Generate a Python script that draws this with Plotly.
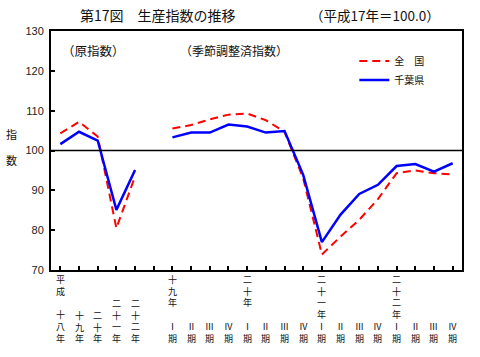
import plotly.graph_objects as go

# ---- data ----
positions = list(range(22))
zenkoku = [104.3, 107.2, 103.5, 80.5, 93.5, None,
           105.5, 106.4, 107.8, 109.0, 109.3, 107.6, 104.7, 93.0,
           73.9, 78.4, 82.6, 87.8, 94.3, 95.0, 94.3, 94.0]
chiba = [101.6, 104.7, 102.5, 85.1, 95.1, None,
         103.3, 104.5, 104.5, 106.5, 106.0, 104.5, 104.9, 93.9,
         77.0, 83.9, 89.1, 91.4, 96.1, 96.6, 94.7, 96.8]
series_names = ["全　国", "千葉県"]

# vertical tick labels, top to bottom ("" = blank line)
tick_labels = [
    ["平", "成", "", "十", "八", "年"],
    ["十", "九", "年"],
    ["二", "十", "年"],
    ["二", "十", "一", "年"],
    ["二", "十", "二", "年"],
    [],
    ["十", "九", "年", "", "Ⅰ", "期"],
    ["Ⅱ", "期"],
    ["Ⅲ", "期"],
    ["Ⅳ", "期"],
    ["二", "十", "年", "", "Ⅰ", "期"],
    ["Ⅱ", "期"],
    ["Ⅲ", "期"],
    ["Ⅳ", "期"],
    ["二", "十", "一", "年", "Ⅰ", "期"],
    ["Ⅱ", "期"],
    ["Ⅲ", "期"],
    ["Ⅳ", "期"],
    ["二", "十", "二", "年", "Ⅰ", "期"],
    ["Ⅱ", "期"],
    ["Ⅲ", "期"],
    ["Ⅳ", "期"],
]

y_ticks = [70, 80, 90, 100, 110, 120, 130]

FONT = "Noto Sans CJK JP"

fig = go.Figure()
fig.add_trace(go.Scatter(x=positions, y=zenkoku, mode="lines", name=series_names[0],
                         line=dict(color="#FF0000", width=2, dash="8px,5px"),
                         connectgaps=False))
fig.add_trace(go.Scatter(x=positions, y=chiba, mode="lines", name=series_names[1],
                         line=dict(color="#0000FF", width=2.5),
                         connectgaps=False))

fig.add_hline(y=100, line=dict(color="black", width=1.5))

PLOT_TOP = 31
PLOT_BOTTOM = 270  # px from top
PLOT_LEFT = 51
anns = []

for k, chars in zip(positions, tick_labels):
    if not chars:
        continue
    text = "<br>".join(c if c else " " for c in chars)
    anns.append(dict(x=k, xref="x", y=0, yref="paper", yshift=-(346 - PLOT_BOTTOM),
                     text=text, showarrow=False, xanchor="center", yanchor="bottom",
                     borderpad=0,
                     font=dict(family=FONT, size=9, color="#111")))

def px_text(xpx, ypx, text, size, xanchor="left"):
    anns.append(dict(x=0, xref="paper", y=1, yref="paper",
                     xshift=xpx - PLOT_LEFT, yshift=PLOT_TOP - ypx,
                     text=text, showarrow=False, xanchor=xanchor, yanchor="middle",
                     font=dict(family=FONT, size=size, color="#111")))

# y-axis title
px_text(11, 134, "指", 11, "center")
px_text(11, 160, "数", 11, "center")

# in-plot notes
px_text(60, 50, "（原指数）", 12.5)
px_text(178, 50, "（季節調整済指数）", 12)

# titles
px_text(78, 15, "第17図　生産指数の推移", 14)
px_text(308, 15, "（平成17年＝100.0）", 13.5)

fig.update_layout(
    width=480, height=357,
    margin=dict(l=PLOT_LEFT, r=18, t=PLOT_TOP, b=357 - PLOT_BOTTOM),
    plot_bgcolor="white", paper_bgcolor="white",
    showlegend=True,
    legend=dict(x=0.738, y=0.935, xanchor="left", yanchor="top",
                bgcolor="rgba(0,0,0,0)", font=dict(family=FONT, size=10, color="#111"),
                tracegroupgap=0, itemwidth=30),
    annotations=anns,
    font=dict(family=FONT),
)
fig.update_xaxes(range=[-0.5, 21.5], tickmode="array", tickvals=positions,
                 showticklabels=False, ticks="inside", ticklen=4, tickwidth=1.5,
                 tickcolor="black", showline=True, linecolor="black", linewidth=2,
                 mirror=True, showgrid=False, zeroline=False, fixedrange=True)
fig.update_yaxes(range=[70, 130], tickmode="array", tickvals=y_ticks,
                 ticks="inside", ticklen=4, tickwidth=1.5, tickcolor="black",
                 ticklabelstandoff=3,
                 tickfont=dict(family="Liberation Sans", size=11, color="#222"),
                 showline=True, linecolor="black", linewidth=2, mirror=True,
                 showgrid=False, zeroline=False, fixedrange=True)

fig.write_html("out.html", config={"displayModeBar": False},
               post_script="document.body.style.margin='0px';")
